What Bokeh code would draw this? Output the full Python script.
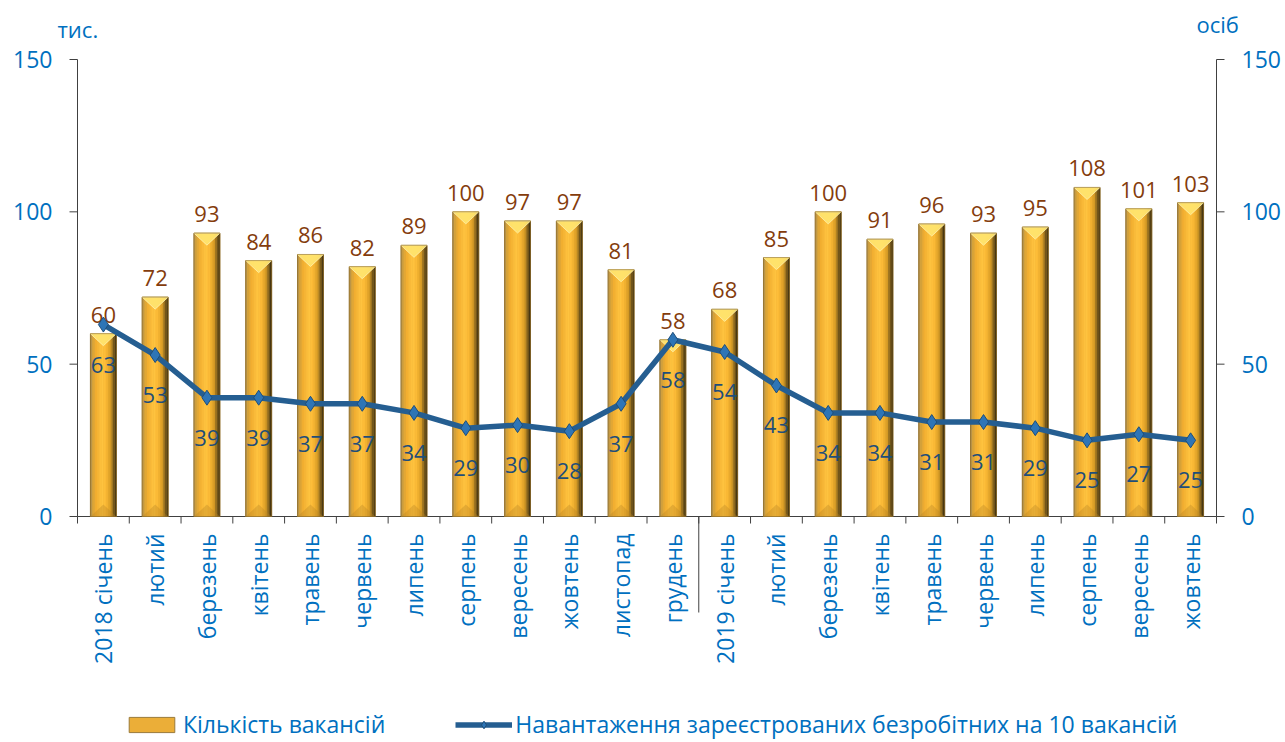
import numpy as np
from bokeh.plotting import figure
from bokeh.models import Range1d, Legend, LegendItem
from bokeh.core.properties import value
from bokeh.embed import file_html
from bokeh.resources import INLINE

# ---------------- data ----------------
months = ["2018 січень", "лютий", "березень", "квітень", "травень", "червень",
          "липень", "серпень", "вересень", "жовтень", "листопад", "грудень",
          "2019 січень", "лютий", "березень", "квітень", "травень", "червень",
          "липень", "серпень", "вересень", "жовтень"]
vacancies = [60, 72, 93, 84, 86, 82, 89, 100, 97, 97, 81, 58,
             68, 85, 100, 91, 96, 93, 95, 108, 101, 103]
load = [63, 53, 39, 39, 37, 37, 34, 29, 30, 28, 37, 58,
        54, 43, 34, 34, 31, 31, 29, 25, 27, 25]
y_ticks = [0, 50, 100, 150]
year_break_index = 12          # first month of 2019
series_names = ["Кількість вакансій",
                "Навантаження зареєстрованих безробітних на 10 вакансій"]
unit_left = "тис."
unit_right = "осіб"

# ---------------- layout (pixel geometry of the plot area) ----------------
FONT = "Open Sans"
BLUE = "#0070C0"
AXIS = "#404040"
W, H = 1282, 740
PX_LEFT, PX_RIGHT = 77, 1216      # category axis extent on canvas
PX_TOP, PX_ZERO = 59, 516         # y=150 and y=0 on canvas
Y_MAX = y_ticks[-1]
n = len(months)
x = np.arange(n)
ppx = (PX_RIGHT - PX_LEFT) / n
ppu = (PX_ZERO - PX_TOP) / Y_MAX
XL, XR = -0.5, n - 0.5

p = figure(width=W, height=H,
           x_range=Range1d(XL - PX_LEFT / ppx, XR + (W - PX_RIGHT) / ppx),
           y_range=Range1d(Y_MAX - (H - PX_TOP) / ppu, Y_MAX + PX_TOP / ppu),
           output_backend="svg", toolbar_location=None,
           x_axis_location=None, y_axis_location=None)
p.min_border_left = p.min_border_right = p.min_border_top = p.min_border_bottom = 0
p.xgrid.visible = False
p.ygrid.visible = False
p.outline_line_color = None
p.background_fill_color = "white"
p.border_fill_color = "white"

# ---------------- value axes (left and right, same scale) ----------------
yt = np.array(y_ticks, dtype=float)
tk = 8 / ppx
for ax_x, sign, align in [(XL, -1, "right"), (XR, 1, "left")]:
    p.segment(x0=[ax_x], y0=[0], x1=[ax_x], y1=[Y_MAX], line_color=AXIS, line_width=1)
    p.segment(x0=np.full(len(yt), ax_x), y0=yt, x1=np.full(len(yt), ax_x + sign * tk),
              y1=yt, line_color=AXIS, line_width=1)
    p.text(x=np.full(len(yt), ax_x + sign * 25 / ppx), y=yt, text=[str(v) for v in y_ticks],
           text_align=align, text_baseline="middle", text_color=BLUE,
           text_font=value(FONT), text_font_size="23px")

# unit captions
p.text(x=[XL + (57 - PX_LEFT) / ppx], y=[Y_MAX + (PX_TOP - 28) / ppu], text=[unit_left],
       text_align="left", text_baseline="middle", text_color=BLUE,
       text_font=value(FONT), text_font_size="22px")
p.text(x=[XR + (1196 - PX_RIGHT) / ppx], y=[Y_MAX + (PX_TOP - 23) / ppu], text=[unit_right],
       text_align="left", text_baseline="middle", text_color=BLUE,
       text_font=value(FONT), text_font_size="22px")

# ---------------- category axis ----------------
tick_len = 7 / ppu
bounds_x = np.arange(n + 1) - 0.5
p.segment(x0=[XL], y0=[0], x1=[XR], y1=[0], line_color=AXIS, line_width=1)
p.segment(x0=bounds_x, y0=np.zeros(n + 1), x1=bounds_x, y1=-tick_len * np.ones(n + 1),
          line_color=AXIS, line_width=1)
sep_x = year_break_index - 0.5
p.segment(x0=[sep_x], y0=[0], x1=[sep_x], y1=[-96 / ppu], line_color=AXIS, line_width=1)
p.text(x=x, y=np.full(n, -17 / ppu), text=months, angle=np.pi / 2,
       text_align="right", text_baseline="middle", text_color=BLUE,
       text_font=value(FONT), text_font_size="23px")

# ---------------- bars (3D-like gold columns) ----------------
bw = 0.5
vac = np.array(vacancies, dtype=float)
base = p.vbar(x=x, top=vac, bottom=0, width=bw, fill_color="#EBAE38",
              line_color="#9A7A3A", line_width=1)
stops = [(0.00, (168, 140, 84)), (0.07, (205, 158, 60)), (0.22, (242, 174, 48)),
         (0.45, (255, 196, 64)), (0.62, (250, 184, 52)), (0.78, (212, 154, 36)),
         (0.88, (130, 98, 30)), (1.00, (52, 40, 14))]
def col(t):
    for (t0, c0), (t1, c1) in zip(stops[:-1], stops[1:]):
        if t0 <= t <= t1:
            f = (t - t0) / (t1 - t0) if t1 > t0 else 0
            c = [int(round(a + (b - a) * f)) for a, b in zip(c0, c1)]
            return "#%02x%02x%02x" % tuple(c)
    return "#%02x%02x%02x" % stops[-1][1]
NS = 16
sw = bw / NS
for i in range(NS):
    t = (i + 0.5) / NS
    p.vbar(x=x - bw / 2 + (i + 0.5) * sw, top=vac, bottom=0, width=sw * 1.08,
           fill_color=col(t), line_color=None)
bev = 12 / ppu
p.patches(xs=[[xi - bw / 2, xi + bw / 2, xi] for xi in x],
          ys=[[v, v, v - bev] for v in vac],
          fill_color="#FFE46E", fill_alpha=0.95, line_color="#FFF2B0", line_width=0.8)
p.patches(xs=[[xi - bw / 2, xi + bw / 2, xi] for xi in x],
          ys=[[0, 0, bev] for _ in vac],
          fill_color="#B88424", fill_alpha=0.35, line_color=None)
p.vbar(x=x, top=vac, bottom=0, width=bw, fill_color=None,
       line_color="#8A6A2A", line_width=0.8, line_alpha=0.7)

p.text(x=x, y=vac, text=[str(v) for v in vacancies], y_offset=-19,
       text_align="center", text_baseline="alphabetic", text_color="#843C0C",
       text_font=value(FONT), text_font_size="22px")

# ---------------- line ----------------
ln = p.line(x=x, y=load, line_width=5.5, line_color="#255E91")
mk = p.scatter(x=x, y=load, marker="diamond", size=15, fill_color="#2E75B6",
               line_color="#1F4E79", line_width=1)
p.text(x=x, y=load, text=[str(v) for v in load], y_offset=40,
       text_align="center", text_baseline="middle", text_color="#1F4E79",
       text_font=value(FONT), text_font_size="22px")

# ---------------- legend ----------------
legend = Legend(items=[LegendItem(label=series_names[0], renderers=[base]),
                       LegendItem(label=series_names[1], renderers=[ln, mk])],
                orientation="horizontal", location=(123, 0),
                glyph_width=57, glyph_height=19, label_standoff=3, spacing=70,
                label_text_color=BLUE, label_text_font=FONT,
                label_text_font_size="23px", background_fill_alpha=0,
                border_line_alpha=0, padding=0, margin=0)
p.add_layout(legend)

open("out.html", "w").write(file_html(p, INLINE))
